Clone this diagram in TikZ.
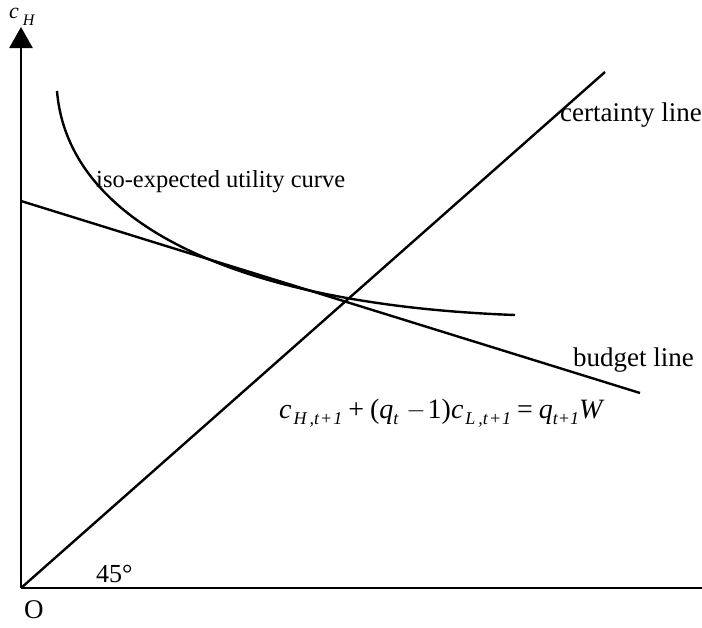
\documentclass[tikz,border=0pt]{standalone}
\usepackage{fontspec}
\setmainfont{Liberation Serif}
\usetikzlibrary{arrows.meta}
\newcommand\eqsub[1]{\raisebox{-6pt}{\fontsize{18}{18}\selectfont\itshape #1}}
\tikzset{
  ln/.style={line width=2.4pt, black},
  axis/.style={line width=2.8pt, black},
  lbl/.style={inner sep=0pt, font=\fontsize{27}{29}\selectfont},
}
\begin{document}
\begin{tikzpicture}[x=1pt,y=-1pt]
\useasboundingbox (0,0) rectangle (702,627);
\coordinate (O) at (21,588);
\coordinate (ytop) at (21,27);
\coordinate (xend) at (702,588);
\coordinate (c1) at (605,72);
\coordinate (b0) at (21,201);
\coordinate (b1) at (640,393);
\coordinate (u0) at (57,91);
\coordinate (u1) at (515,315);
\draw[axis, -{Triangle[length=21pt,width=23pt]}] (O) -- (ytop);
\draw[axis] (O) -- (xend);
\draw[ln] (O) -- (c1);
\draw[ln] (b0) -- (b1);
\draw[ln] (u0) .. controls (68,225) and (240,305) .. (u1);
\node[inner sep=0pt, anchor=base west] (cH) at (9,18)
  {\fontsize{22}{22}\selectfont\itshape c\hspace{4pt}\raisebox{-7pt}{\fontsize{16}{16}\selectfont H}};
\node[lbl, anchor=base west, font=\fontsize{24.5}{27}\selectfont] (iso) at (96,187) {iso-expected utility curve};
\node[lbl, anchor=base west] (cert) at (560,121) {certainty line};
\node[lbl, anchor=base west] (bud) at (573,366) {budget line};
\node[lbl, anchor=base west, font=\fontsize{26}{28}\selectfont] (deg) at (96,582) {45\textdegree};
\node[lbl, anchor=base west] (o) at (24,618) {O};
\node[inner sep=0pt, anchor=base west, font=\fontsize{28}{30}\selectfont] (eq) at (279,418)
  {\textit{c}\hspace{2pt}\eqsub{H\,,t\kern1pt+\kern1pt1}\hspace{6pt}+\hspace{6pt}(\textit{q}\eqsub{t}\hspace{8pt}\raisebox{1pt}{$-$}\hspace{2pt}1)\textit{c}\hspace{2pt}\eqsub{L\,,t\kern1pt+\kern1pt1}\hspace{6pt}=\hspace{6pt}\textit{q}\eqsub{t+1}\textit{W}};
\end{tikzpicture}
\end{document}
